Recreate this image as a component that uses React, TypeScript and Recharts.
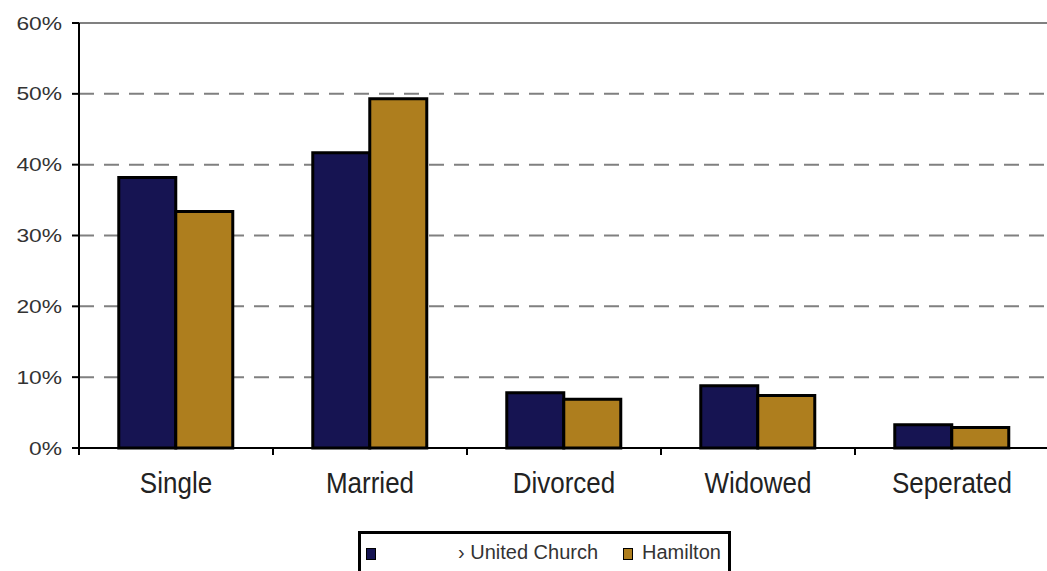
import { BarChart, Bar, XAxis, YAxis, CartesianGrid, ReferenceLine } from "recharts";

const categories = ["Single", "Married", "Divorced", "Widowed", "Seperated"];
const unitedChurch = [38.2, 41.7, 7.8, 8.8, 3.3];
const hamilton = [33.4, 49.3, 6.9, 7.4, 2.9];
const seriesNames = ["› United Church", "Hamilton"];
const yTicks = [0, 10, 20, 30, 40, 50, 60];

const NAVY = "#161452";
const GOLD = "#AE7E1E";
const FONT = "'Liberation Sans', Arial, sans-serif";

const data = categories.map((name, i) => ({
  name,
  united: unitedChurch[i],
  hamilton: hamilton[i],
}));

// category label plus the small tick marks at the band edges
const CategoryTick = ({ x, y, payload, index }: any) => {
  const half = payload.offset ?? 0;
  return (
    <g>
      <line x1={x - half} y1={y} x2={x - half} y2={y + 7} stroke="#000" strokeWidth={2} />
      {index === categories.length - 1 && (
        <line x1={x + half} y1={y} x2={x + half} y2={y + 7} stroke="#000" strokeWidth={2} />
      )}
      <g transform={`translate(${x},${y + 45}) scale(1,1.12)`}>
        <text textAnchor="middle" fontSize={26} fontFamily={FONT} fill="#222">
          {payload.value}
        </text>
      </g>
    </g>
  );
};

const PercentTick = ({ x, y, payload }: any) => (
  <g transform={`translate(${x},${y}) scale(1.2,1)`}>
    <text textAnchor="end" dy="0.35em" fontSize={19} fontFamily={FONT} fill="#333">
      {`${payload.value}%`}
    </text>
  </g>
);

const LegendBox = () => (
  <div
    style={{
      position: "absolute",
      left: 358,
      top: 531,
      width: 367,
      height: 60,
      border: "3px solid #000",
      background: "#fff",
      fontFamily: FONT,
      fontSize: 20,
      color: "#333",
    }}
  >
    <span
      style={{
        position: "absolute",
        left: 5,
        top: 14,
        width: 8,
        height: 10,
        background: NAVY,
        border: "1px solid #000",
      }}
    />
    <span style={{ position: "absolute", left: 97, top: 7, whiteSpace: "nowrap" }}>
      {seriesNames[0]}
    </span>
    <span
      style={{
        position: "absolute",
        left: 262,
        top: 14,
        width: 8,
        height: 10,
        background: GOLD,
        border: "1px solid #000",
      }}
    />
    <span style={{ position: "absolute", left: 281, top: 7, whiteSpace: "nowrap" }}>
      {seriesNames[1]}
    </span>
  </div>
);

export default function App() {
  return (
    <div
      style={{
        position: "fixed",
        left: 0,
        top: 0,
        width: 1047,
        height: 571,
        overflow: "hidden",
        background: "#fff",
      }}
    >
      <BarChart
        width={1052}
        height={571}
        data={data}
        margin={{ top: 23, right: 3, left: 0, bottom: 63 }}
        barCategoryGap="20.5%"
        barGap={0}
      >
        <CartesianGrid
          vertical={false}
          stroke="#808080"
          strokeWidth={2}
          strokeDasharray="15 10"
        />
        <ReferenceLine y={60} stroke="#808080" strokeWidth={2} />
        <XAxis
          dataKey="name"
          interval={0}
          height={60}
          tickLine={false}
          tickSize={0}
          tickMargin={0}
          axisLine={{ stroke: "#000", strokeWidth: 2 }}
          tick={<CategoryTick />}
        />
        <YAxis
          width={79}
          domain={[0, 60]}
          ticks={yTicks}
          interval={0}
          tickSize={7}
          tickMargin={10}
          axisLine={{ stroke: "#000", strokeWidth: 2 }}
          tickLine={{ stroke: "#000", strokeWidth: 2 }}
          tick={<PercentTick />}
        />
        <Bar
          dataKey="united"
          name={seriesNames[0]}
          fill={NAVY}
          stroke="#000"
          strokeWidth={3}
          isAnimationActive={false}
        />
        <Bar
          dataKey="hamilton"
          name={seriesNames[1]}
          fill={GOLD}
          stroke="#000"
          strokeWidth={3}
          isAnimationActive={false}
        />
      </BarChart>
      <LegendBox />
    </div>
  );
}
